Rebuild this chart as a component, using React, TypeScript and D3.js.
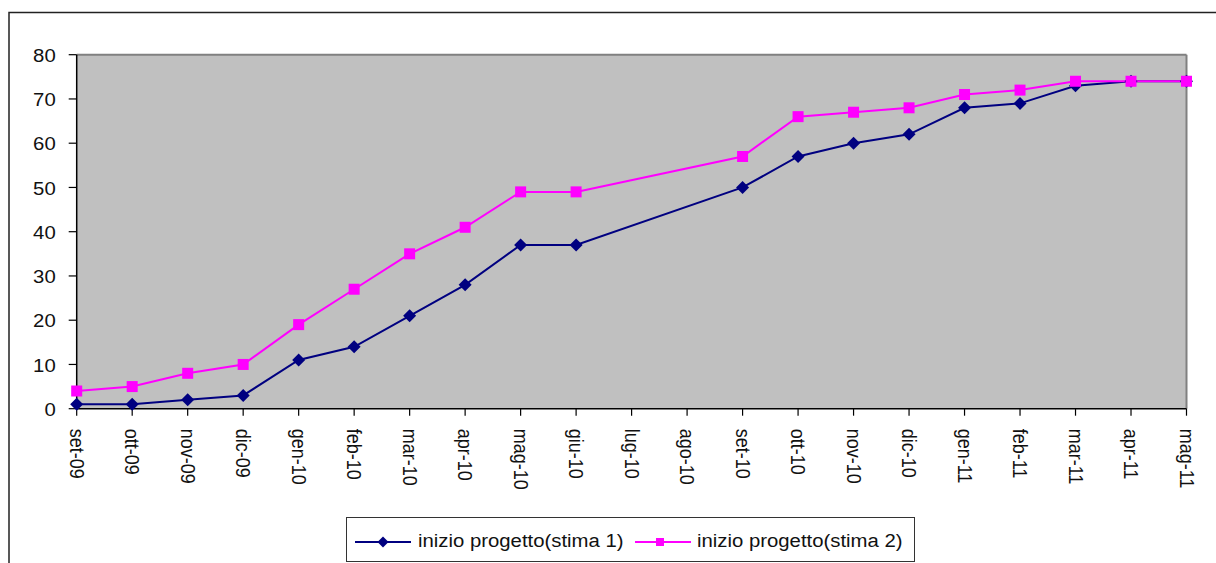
import React from "react";
import * as d3 from "d3";

const months: string[] = [
  "set-09", "ott-09", "nov-09", "dic-09", "gen-10", "feb-10", "mar-10",
  "apr-10", "mag-10", "giu-10", "lug-10", "ago-10", "set-10", "ott-10",
  "nov-10", "dic-10", "gen-11", "feb-11", "mar-11", "apr-11", "mag-11",
];

const stima1: (number | null)[] = [
  1, 1, 2, 3, 11, 14, 21, 28, 37, 37, null, null, 50, 57, 60, 62, 68, 69, 73, 74, 74,
];

const stima2: (number | null)[] = [
  4, 5, 8, 10, 19, 27, 35, 41, 49, 49, null, null, 57, 66, 67, 68, 71, 72, 74, 74, 74,
];

const yTicks: number[] = [0, 10, 20, 30, 40, 50, 60, 70, 80];

const seriesNames: string[] = ["inizio progetto(stima 1)", "inizio progetto(stima 2)"];

const W = 1216;
const H = 563;
const left = 76.7;
const right = 1186.5;
const top = 54.7;
const bottom = 408.7;
const SX = 1.13; // horizontal text stretch
const FONT = "'Liberation Sans', Arial, sans-serif";

type Pt = { i: number; v: number };

export default function App() {
  const x = d3.scalePoint<string>().domain(months).range([left, right]);
  const y = d3.scaleLinear().domain([0, 80]).range([bottom, top]);

  const pts = (arr: (number | null)[]): Pt[] =>
    arr.map((v, i) => ({ i, v: v as number })).filter((d) => d.v != null);

  const line = d3
    .line<Pt>()
    .x((d) => x(months[d.i]) as number)
    .y((d) => y(d.v));

  const s1 = pts(stima1);
  const s2 = pts(stima2);

  const diamond = (cx: number, cy: number, r: number) =>
    `M${cx},${cy - r}L${cx + r},${cy}L${cx},${cy + r}L${cx - r},${cy}Z`;

  const legendY = 542;

  return (
    <svg
      width={W}
      height={H}
      style={{ position: "absolute", left: 0, top: 0, background: "#fff" }}
      fontFamily={FONT}
    >
      {/* chart area frame */}
      <rect x={9} y={12.5} width={W + 20} height={H + 20} fill="#fff" stroke="#222" strokeWidth={1.5} />

      {/* plot area */}
      <rect x={left} y={top} width={right - left} height={bottom - top} fill="#C0C0C0" />
      <line x1={left} y1={top} x2={right} y2={top} stroke="#808080" strokeWidth={2} />
      <line x1={right} y1={top} x2={right} y2={bottom} stroke="#808080" strokeWidth={2} />

      {/* y axis */}
      <line x1={left} y1={top} x2={left} y2={bottom} stroke="#000" strokeWidth={1.5} />
      {yTicks.map((t) => (
        <g key={t}>
          <line x1={left - 8} x2={left} y1={y(t)} y2={y(t)} stroke="#000" strokeWidth={1.2} />
          <text
            transform={`translate(${left - 21},${y(t) + 1}) scale(${SX},1)`}
            textAnchor="end"
            dominantBaseline="central"
            fontSize={18}
            fill="#111"
          >
            {t}
          </text>
        </g>
      ))}

      {/* x axis */}
      <line x1={left} y1={bottom} x2={right} y2={bottom} stroke="#000" strokeWidth={1.5} />
      {months.map((m) => {
        const px = x(m) as number;
        return (
          <g key={m}>
            <line x1={px} x2={px} y1={bottom} y2={bottom + 7} stroke="#000" strokeWidth={1.2} />
            <text
              transform={`translate(${px},${bottom + 20}) scale(${SX},1) rotate(90)`}
              textAnchor="start"
              dominantBaseline="central"
              fontSize={18}
              fill="#111"
            >
              {m}
            </text>
          </g>
        );
      })}

      {/* series */}
      <path d={line(s1) ?? ""} fill="none" stroke="#000080" strokeWidth={2} />
      <path d={line(s2) ?? ""} fill="none" stroke="#FF00FF" strokeWidth={2} />
      {s1.map((d) => (
        <path key={"d" + d.i} d={diamond(x(months[d.i]) as number, y(d.v), 6.5)} fill="#000080" />
      ))}
      {s2.map((d) => (
        <rect
          key={"s" + d.i}
          x={(x(months[d.i]) as number) - 5.5}
          y={y(d.v) - 5.5}
          width={11}
          height={11}
          fill="#FF00FF"
        />
      ))}

      {/* legend */}
      <rect x={346.5} y={517.5} width={568} height={44} fill="#fff" stroke="#333" strokeWidth={1} />
      <line x1={355} x2={411} y1={legendY} y2={legendY} stroke="#000080" strokeWidth={2} />
      <path d={diamond(383, legendY, 5.5)} fill="#000080" />
      <text transform={`translate(418,${legendY - 1}) scale(${SX},1)`} dominantBaseline="central" fontSize={18} fill="#111">
        {seriesNames[0]}
      </text>
      <line x1={635} x2={691} y1={legendY} y2={legendY} stroke="#FF00FF" strokeWidth={2} />
      <rect x={656} y={legendY - 4} width={8} height={8} fill="#FF00FF" />
      <text transform={`translate(697,${legendY - 1}) scale(${SX},1)`} dominantBaseline="central" fontSize={18} fill="#111">
        {seriesNames[1]}
      </text>
    </svg>
  );
}
